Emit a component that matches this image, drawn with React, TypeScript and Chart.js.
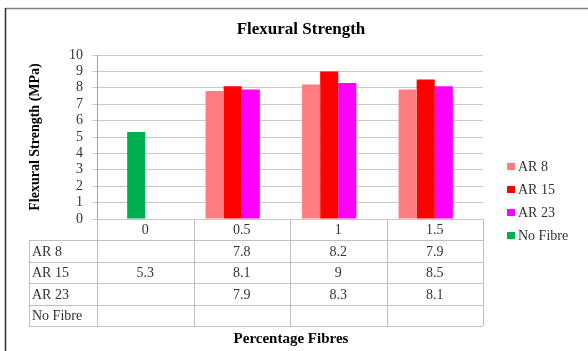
import React, { useEffect, useRef } from "react";
import { Chart, registerables } from "chart.js";

Chart.register(...registerables);

const categories = ["0", "0.5", "1", "1.5"];
const seriesNames = ["AR 8", "AR 15", "AR 23", "No Fibre"];
const ar8: (number | null)[] = [null, 7.8, 8.2, 7.9];
const ar15: (number | null)[] = [5.3, 8.1, 9, 8.5];
const ar23: (number | null)[] = [null, 7.9, 8.3, 8.1];
const noFibre: (number | null)[] = [null, null, null, null];
const seriesColors = ["#FF7C80", "#FF0000", "#FF00FF", "#00B050"];
const chartTitle = "Flexural Strength";
const yTitle = "Flexural Strength (MPa)";
const xTitle = "Percentage Fibres";

const SERIF = '"Liberation Serif", "Times New Roman", serif';

const decor = {
  id: "decor",
  beforeDraw(chart: any) {
    const ctx = chart.ctx;
    ctx.save();
    ctx.fillStyle = "#ffffff";
    ctx.fillRect(0, 0, chart.width, chart.height);
    ctx.restore();
  },
  afterDraw(chart: any) {
    const ctx = chart.ctx;
    const { left, right, bottom } = chart.chartArea;
    ctx.save();
    // frame
    ctx.strokeStyle = "#808080";
    ctx.lineWidth = 1.5;
    ctx.beginPath();
    ctx.moveTo(5, 8.5);
    ctx.lineTo(chart.width, 8.5);
    ctx.stroke();
    ctx.strokeStyle = "#303030";
    ctx.beginPath();
    ctx.moveTo(5.5, 8);
    ctx.lineTo(5.5, chart.height);
    ctx.stroke();

    // title
    ctx.fillStyle = "#000";
    ctx.textAlign = "center";
    ctx.textBaseline = "middle";
    ctx.font = `bold 17px ${SERIF}`;
    ctx.fillText(chartTitle, 301, 30);

    // y title
    ctx.save();
    ctx.translate(35, 137);
    ctx.rotate(-Math.PI / 2);
    ctx.font = `bold 14px ${SERIF}`;
    ctx.fillText(yTitle, 0, 0);
    ctx.restore();

    // x title
    ctx.font = `bold 15px ${SERIF}`;
    ctx.fillText(xTitle, 291, 339);

    // table
    const n = categories.length;
    const colW = (right - left) / n;
    const tableLeft = 29;
    const tableBottom = 326;
    const rows = chart.data.datasets.length + 1;
    const rowH = (tableBottom - bottom) / rows;
    ctx.strokeStyle = "#BFBFBF";
    ctx.lineWidth = 1;
    for (let r = 1; r <= rows; r++) {
      const y = Math.round(bottom + r * rowH) + 0.5;
      ctx.beginPath();
      ctx.moveTo(tableLeft, y);
      ctx.lineTo(right, y);
      ctx.stroke();
    }
    ctx.beginPath();
    ctx.moveTo(tableLeft + 0.5, Math.round(bottom + rowH));
    ctx.lineTo(tableLeft + 0.5, tableBottom);
    ctx.stroke();
    for (let i = 0; i <= n; i++) {
      const x = Math.round(left + i * colW) + 0.5;
      ctx.beginPath();
      ctx.moveTo(x, bottom);
      ctx.lineTo(x, tableBottom);
      ctx.stroke();
    }
    ctx.font = `14px ${SERIF}`;
    ctx.fillStyle = "#333";
    ctx.textBaseline = "middle";
    ctx.textAlign = "center";
    categories.forEach((c, i) => {
      ctx.fillText(c, left + (i + 0.5) * colW, bottom + rowH / 2 + 1);
    });
    chart.data.datasets.forEach((ds: any, r: number) => {
      const cy = bottom + (r + 1.5) * rowH + 1;
      ctx.textAlign = "left";
      ctx.fillText(ds.label, tableLeft + 3, cy);
      ctx.textAlign = "center";
      ds.data.forEach((v: number | null, i: number) => {
        if (v !== null && v !== undefined) {
          ctx.fillText(String(v), left + (i + 0.5) * colW, cy);
        }
      });
    });

    // legend
    const legendY = [166, 189, 212, 235];
    chart.data.datasets.forEach((ds: any, r: number) => {
      ctx.fillStyle = seriesColors[r];
      ctx.fillRect(507, legendY[r] - 3, 8, 7);
      ctx.fillStyle = "#333";
      ctx.textAlign = "left";
      ctx.fillText(ds.label, 518, legendY[r] + 1);
    });
    ctx.restore();
  },
};

export default function App() {
  const ref = useRef<HTMLCanvasElement>(null);
  useEffect(() => {
    if (!ref.current) return;
    const seriesData = [ar8, ar15, ar23, noFibre];
    const chart = new Chart(ref.current, {
      type: "bar",
      data: {
        labels: categories,
        datasets: seriesNames.map((name, i) => ({
          label: name,
          data: seriesData[i],
          backgroundColor:
            name === "AR 15"
              ? seriesData[i].map((_, j) => (j === 0 ? seriesColors[3] : seriesColors[1]))
              : seriesColors[i],
          borderWidth: 0,
          categoryPercentage: 0.75,
          barPercentage: 1,
        })),
      },
      options: {
        responsive: false,
        animation: false,
        devicePixelRatio: 1,
        layout: { padding: { top: 55, right: 105, bottom: 132, left: 0 } },
        plugins: {
          legend: { display: false },
          title: { display: false },
          tooltip: { enabled: false },
        },
        scales: {
          x: { display: false },
          y: {
            min: 0,
            max: 10,
            ticks: {
              stepSize: 1,
              autoSkip: false,
              padding: 9,
              color: "#333",
              font: { family: SERIF, size: 14 },
            },
            grid: { color: "#C8C8C8", tickLength: 5 },
            border: { color: "#A0A0A0" },
            afterFit: (s: any) => {
              s.width = 97;
            },
          },
        },
      },
      plugins: [decor],
    });
    return () => chart.destroy();
  }, []);
  return (
    <div style={{ position: "absolute", left: 0, top: 0, width: 588, height: 351 }}>
      <canvas ref={ref} width={588} height={351} />
    </div>
  );
}
